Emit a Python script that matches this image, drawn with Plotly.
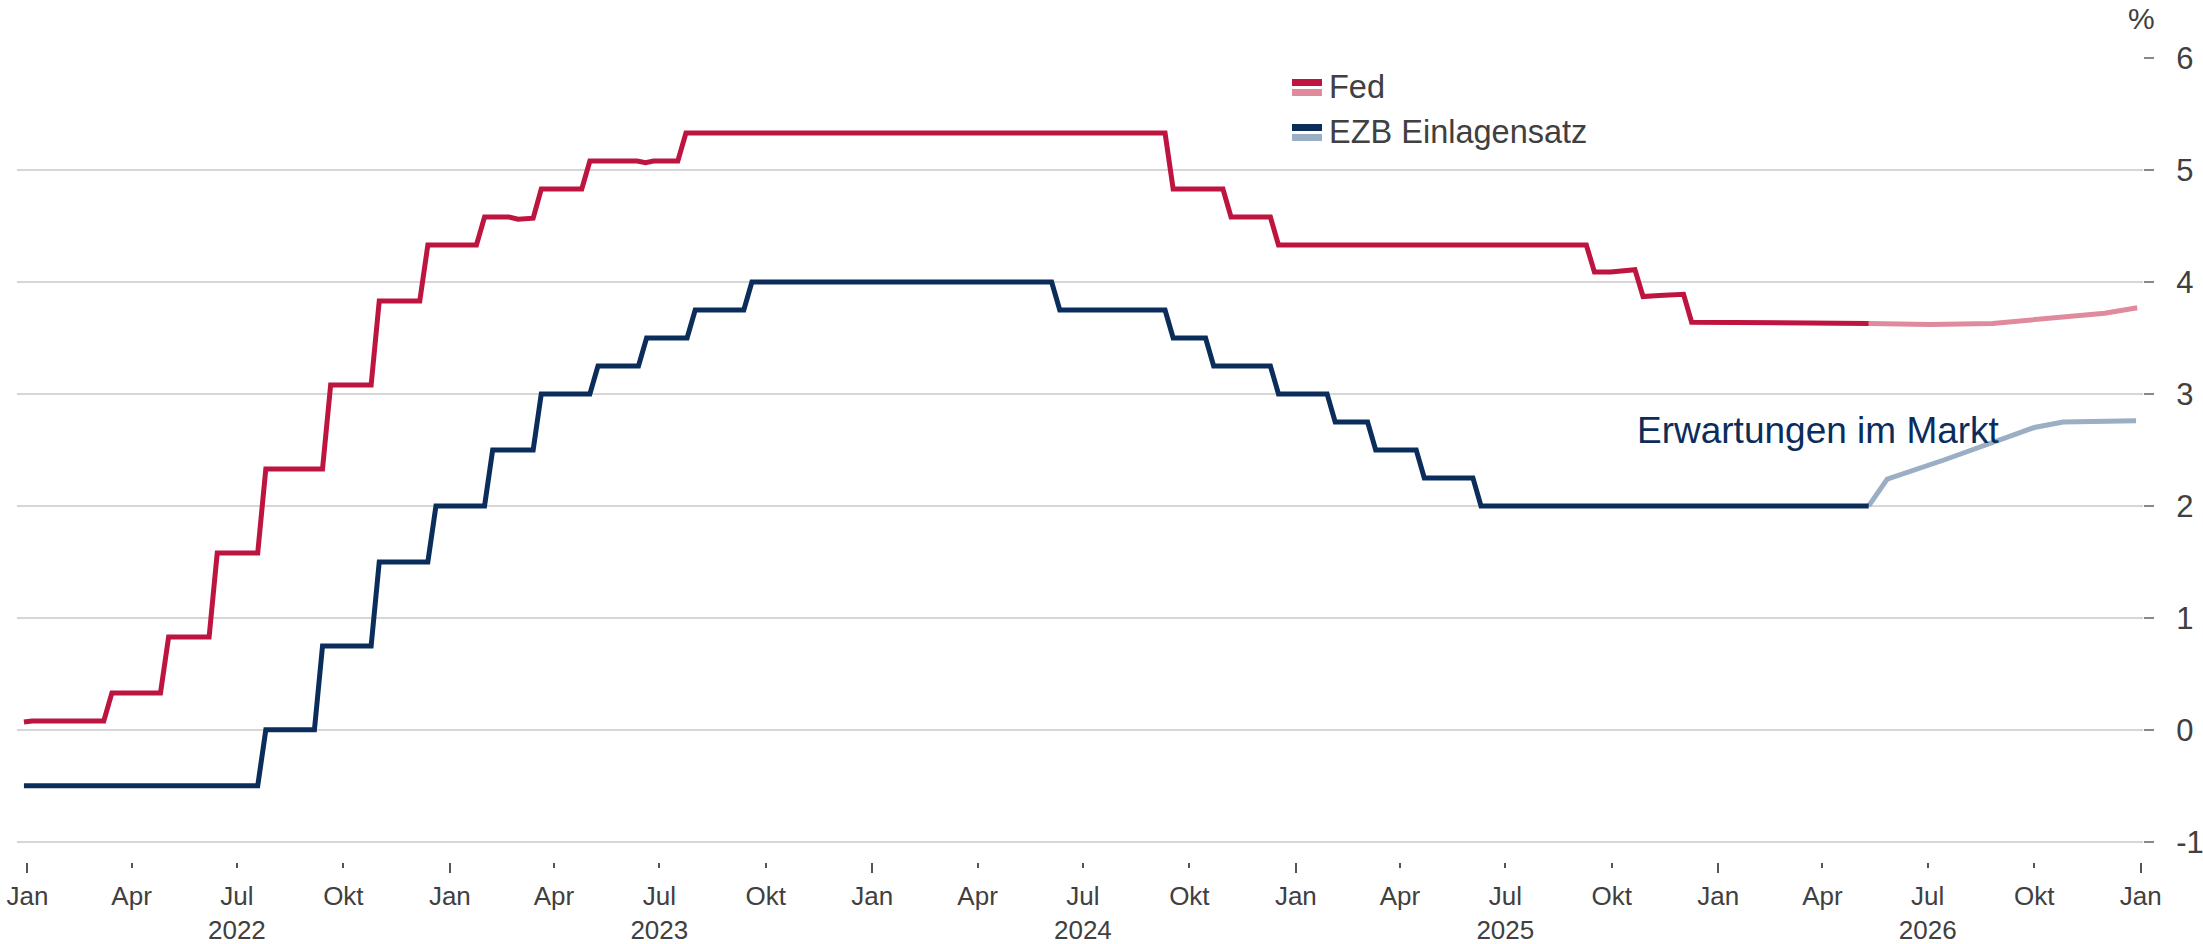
import plotly.graph_objects as go

# ---------------- data ----------------
fed_dates = ["2021-12-29", "2022-01-05", "2022-03-08", "2022-03-15", "2022-04-26", "2022-05-03",
             "2022-06-07", "2022-06-14", "2022-07-19", "2022-07-26", "2022-09-13", "2022-09-20",
             "2022-10-25", "2022-11-01", "2022-12-06", "2022-12-13", "2023-01-24", "2023-01-31",
             "2023-02-21", "2023-03-01", "2023-03-14", "2023-03-21", "2023-04-25", "2023-05-02",
             "2023-06-12", "2023-06-19", "2023-06-26", "2023-07-17", "2023-07-24", "2024-09-10",
             "2024-09-17", "2024-10-30", "2024-11-06", "2024-12-10", "2024-12-17", "2025-09-09",
             "2025-09-16", "2025-09-30", "2025-10-21", "2025-10-28", "2025-11-11", "2025-12-02",
             "2025-12-09", "2026-04-28", "2026-05-11"]
fed_values = [0.07, 0.08, 0.08, 0.33, 0.33, 0.83,
              0.83, 1.58, 1.58, 2.33, 2.33, 3.08,
              3.08, 3.83, 3.83, 4.33, 4.33, 4.58,
              4.58, 4.56, 4.57, 4.83, 4.83, 5.08,
              5.08, 5.065, 5.08, 5.08, 5.33, 5.33,
              4.83, 4.83, 4.58, 4.58, 4.33, 4.33,
              4.09, 4.09, 4.11, 3.87, 3.88, 3.89,
              3.64, 3.64, 3.63]

fed_fc_dates = ["2026-05-11", "2026-07-03", "2026-08-26", "2026-10-04", "2026-12-01", "2026-12-29"]
fed_fc_values = [3.63, 3.62, 3.63, 3.67, 3.72, 3.77]

ecb_dates = ["2021-12-29", "2022-07-19", "2022-07-26", "2022-09-06", "2022-09-13", "2022-10-25",
             "2022-11-01", "2022-12-13", "2022-12-20", "2023-01-31", "2023-02-07", "2023-03-14",
             "2023-03-21", "2023-05-02", "2023-05-09", "2023-06-13", "2023-06-20", "2023-07-25",
             "2023-08-01", "2023-09-12", "2023-09-19", "2024-06-04", "2024-06-11", "2024-09-10",
             "2024-09-17", "2024-10-15", "2024-10-22", "2024-12-10", "2024-12-17", "2025-01-28",
             "2025-02-04", "2025-03-04", "2025-03-11", "2025-04-15", "2025-04-22", "2025-06-03",
             "2025-06-10", "2026-05-11"]
ecb_values = [-0.50, -0.50, 0.00, 0.00, 0.75, 0.75,
              1.50, 1.50, 2.00, 2.00, 2.50, 2.50,
              3.00, 3.00, 3.25, 3.25, 3.50, 3.50,
              3.75, 3.75, 4.00, 4.00, 3.75, 3.75,
              3.50, 3.50, 3.25, 3.25, 3.00, 3.00,
              2.75, 2.75, 2.50, 2.50, 2.25, 2.25,
              2.00, 2.00]

ecb_fc_dates = ["2026-05-11", "2026-05-27", "2026-07-15", "2026-10-01", "2026-10-26", "2026-12-28"]
ecb_fc_values = [2.00, 2.24, 2.41, 2.70, 2.75, 2.76]

tick_dates = ["2022-01-01", "2022-04-01", "2022-07-01", "2022-10-01",
              "2023-01-01", "2023-04-01", "2023-07-01", "2023-10-01",
              "2024-01-01", "2024-04-01", "2024-07-01", "2024-10-01",
              "2025-01-01", "2025-04-01", "2025-07-01", "2025-10-01",
              "2026-01-01", "2026-04-01", "2026-07-01", "2026-10-01",
              "2027-01-01"]
tick_labels = ["Jan", "Apr", "Jul<br>2022", "Okt",
               "Jan", "Apr", "Jul<br>2023", "Okt",
               "Jan", "Apr", "Jul<br>2024", "Okt",
               "Jan", "Apr", "Jul<br>2025", "Okt",
               "Jan", "Apr", "Jul<br>2026", "Okt",
               "Jan"]
year_ticks = ["2022-01-01", "2023-01-01", "2024-01-01", "2025-01-01", "2026-01-01", "2027-01-01"]

y_ticks = [-1, 0, 1, 2, 3, 4, 5, 6]
y_tick_labels = ["-1", "0", "1", "2", "3", "4", "5", "6"]

legend_names = ["Fed", "EZB Einlagensatz"]
annotation_text = "Erwartungen im Markt"
unit_label = "%"

# ---------------- style ----------------
FED = "#BE1540"
FED_LIGHT = "#E08A9E"
ECB = "#0B2D5B"
ECB_LIGHT = "#9AAEC4"
TXT = "#404040"
FONT = "Liberation Sans, Arial, sans-serif"
X_RANGE = ["2021-12-23", "2027-01-03"]
Y_RANGE = [-1.18, 6.0]

fig = go.Figure()
line_kw = dict(mode="lines", hoverinfo="skip", showlegend=False)
fig.add_trace(go.Scatter(x=fed_fc_dates, y=fed_fc_values, line=dict(color=FED_LIGHT, width=5), **line_kw))
fig.add_trace(go.Scatter(x=ecb_fc_dates, y=ecb_fc_values, line=dict(color=ECB_LIGHT, width=5), **line_kw))
fig.add_trace(go.Scatter(x=fed_dates, y=fed_values, line=dict(color=FED, width=5), **line_kw))
fig.add_trace(go.Scatter(x=ecb_dates, y=ecb_values, line=dict(color=ECB, width=5), **line_kw))
# invisible trace that carries the overlay axis with the long January ticks
fig.add_trace(go.Scatter(x=year_ticks, y=[None] * len(year_ticks), xaxis="x2", mode="markers",
                         marker=dict(opacity=0), hoverinfo="skip", showlegend=False))

fig.update_layout(
    width=2203, height=944,
    margin=dict(l=17, r=60, t=58, b=82),
    paper_bgcolor="white", plot_bgcolor="white",
    font=dict(family=FONT, color=TXT),
    xaxis=dict(range=X_RANGE, tickmode="array", tickvals=tick_dates, ticktext=tick_labels,
               ticks="outside", ticklen=5, tickwidth=1.5, tickcolor="#555555",
               tickfont=dict(size=26, color=TXT), ticklabelstandoff=6, automargin=False,
               showgrid=False, showline=False, zeroline=False),
    xaxis2=dict(range=X_RANGE, overlaying="x", side="bottom", tickmode="array",
                tickvals=year_ticks, ticks="outside", ticklen=10, tickwidth=2,
                tickcolor="#555555", showticklabels=False, showgrid=False, automargin=False,
                showline=False, zeroline=False),
    yaxis=dict(range=Y_RANGE, side="right", tickmode="array", tickvals=y_ticks,
               ticktext=y_tick_labels,
               ticks="outside", ticklen=10, tickwidth=1.5, tickcolor="#888888",
               tickfont=dict(size=31, color=TXT), ticklabelstandoff=16, automargin=False,
               showgrid=True, gridcolor="#D6D6D6", gridwidth=1.5,
               showline=False, zeroline=False),
)

# manual two-tone legend
def px_x(p):
    return (p - 17) / 2126.0

def px_y(p):
    return (862 - p) / 804.0

legend_rows = [
    (legend_names[0], FED, FED_LIGHT, 79, 87.5),
    (legend_names[1], ECB, ECB_LIGHT, 124, 132),
]
for name, dark, light, top, mid in legend_rows:
    fig.add_shape(type="rect", xref="paper", yref="paper",
                  x0=px_x(1292), x1=px_x(1322), y0=px_y(top + 7), y1=px_y(top),
                  fillcolor=dark, line=dict(width=0))
    fig.add_shape(type="rect", xref="paper", yref="paper",
                  x0=px_x(1292), x1=px_x(1322), y0=px_y(top + 17), y1=px_y(top + 10),
                  fillcolor=light, line=dict(width=0))
    fig.add_annotation(text=name, xref="paper", yref="paper", x=px_x(1327), y=px_y(mid),
                       xanchor="left", yanchor="middle", showarrow=False,
                       font=dict(size=32.5, color=TXT, family=FONT))

fig.add_annotation(text=annotation_text, xref="paper", yref="paper", x=px_x(1635), y=px_y(430),
                   xanchor="left", yanchor="middle", showarrow=False,
                   font=dict(size=37, color=ECB, family=FONT))
fig.add_annotation(text=unit_label, xref="paper", yref="paper", x=px_x(2141), y=px_y(18),
                   xanchor="center", yanchor="middle", showarrow=False,
                   font=dict(size=30, color=TXT, family=FONT))

fig.write_html(
    "out.html",
    config={"displayModeBar": False},
    post_script="document.body.style.margin='0px';document.body.style.overflow='hidden';",
)
